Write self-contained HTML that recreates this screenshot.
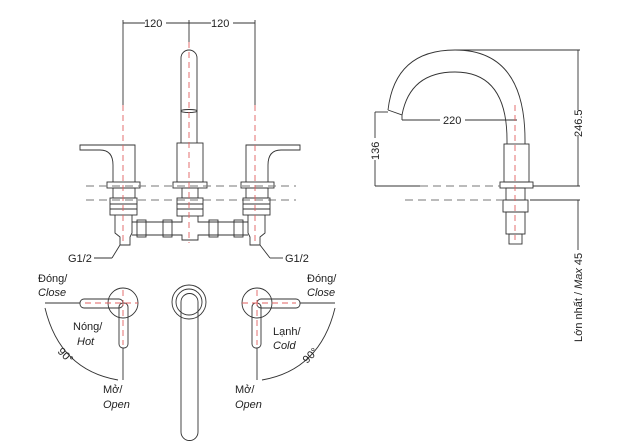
<!DOCTYPE html>
<html><head><meta charset="utf-8"><style>
html,body{margin:0;padding:0;background:#fff;}
svg{display:block;}
text{font-family:"Liberation Sans",sans-serif;font-size:11px;fill:#222;}
.i{font-style:italic;}
</style></head><body>
<svg width="631" height="443" viewBox="0 0 631 443" xmlns="http://www.w3.org/2000/svg">
<g fill="none" stroke="#333" stroke-width="0.9">
<!-- top dimension -->
<line x1="123" y1="20" x2="123" y2="105"/><line x1="255" y1="20" x2="255" y2="105"/><line x1="189" y1="20" x2="189" y2="42"/>
<line x1="123" y1="23" x2="145" y2="23"/><line x1="166" y1="23" x2="211" y2="23"/><line x1="233" y1="23" x2="255" y2="23"/>
<!-- spout front -->
<path d="M181,143 V58 A8,8 0 0 1 197,58 V143"/>
<ellipse cx="189" cy="111" rx="8" ry="1.5"/>
<rect x="177" y="143" width="26" height="39"/>
<rect x="173" y="182" width="34" height="6"/>
<!-- left handle -->
<path d="M113,182 V165 Q113,150 100,150 H80 V145 H135 V182"/>
<rect x="107" y="182" width="33" height="6"/>
<!-- right handle -->
<path d="M268,182 V165 Q268,150 281,150 H300 V145 H246 V182"/>
<rect x="241" y="182" width="33" height="6"/>
<!-- dashed horizontal -->
<g stroke="#777" stroke-dasharray="8,5"><line x1="86" y1="186" x2="296" y2="186"/><line x1="86" y1="200" x2="296" y2="200"/></g>
<!-- below deck: valves -->
<rect x="113" y="188" width="22" height="10"/><rect x="110" y="198" width="27" height="17"/><line x1="110" y1="204" x2="137" y2="204"/><line x1="110" y1="209" x2="137" y2="209"/>
<path d="M115,215 V233 L120,237 V245 H130 V237 L132,233 V215"/>
<rect x="246" y="188" width="22" height="10"/><rect x="243" y="198" width="27" height="17"/><line x1="243" y1="204" x2="270" y2="204"/><line x1="243" y1="209" x2="270" y2="209"/>
<path d="M248,215 V233 L250,237 V245 H260 V237 L265,233 V215"/>
<rect x="182" y="188" width="16" height="10"/><rect x="177" y="198" width="26" height="18"/><line x1="177" y1="204" x2="203" y2="204"/><line x1="177" y1="209" x2="203" y2="209"/>
<path d="M132,222 H182 V216 M132,235 H182 V240 H198 V235 H248 M198,216 V222 H248"/>
<rect x="137" y="220" width="9" height="17"/><rect x="163" y="220" width="9" height="17"/><rect x="209" y="220" width="9" height="17"/><rect x="234" y="220" width="9" height="17"/>
<line x1="94" y1="258" x2="112" y2="258"/><line x1="112" y1="258" x2="120" y2="245"/>
<line x1="283" y1="258" x2="270" y2="258"/><line x1="270" y1="258" x2="260" y2="245"/>
<!-- top view handles -->
<circle cx="123" cy="303" r="15"/><rect x="80" y="299" width="43" height="9" rx="4"/><rect x="119" y="303" width="9" height="45" rx="4"/>
<circle cx="257" cy="303" r="15"/><rect x="257" y="299" width="43" height="9" rx="4"/><rect x="252" y="303" width="9" height="45" rx="4"/>
<path d="M45,303 H80 M123,348 V380 M45,308 Q60,370 118,380"/>
<path d="M335,303 H300 M257,348 V380 M335,308 Q320,370 262,380"/>
<!-- top view spout -->
<circle cx="189" cy="302" r="17"/><circle cx="189" cy="302" r="13"/>
<path d="M181,432 V302 A8,8 0 0 1 198,302 V432 A8.5,8.5 0 0 1 181,432"/>
<!-- side view -->
<path d="M388,110 Q395,50 455,50 Q525,50 525,140 V144"/>
<path d="M402,115 Q410,72 455,72 Q507,72 507,140 V144"/>
<path d="M388,110 L402,115 L402,120"/>
<rect x="504" y="144" width="25" height="38"/><rect x="500" y="182" width="33" height="6"/>
<rect x="506" y="188" width="19" height="12"/><rect x="503" y="200" width="25" height="12"/><rect x="506" y="212" width="19" height="22"/><rect x="509" y="234" width="13" height="10"/>
<line x1="455" y1="50" x2="580" y2="50"/><line x1="578" y1="50" x2="578" y2="110"/><line x1="578" y1="135" x2="578" y2="186"/>
<line x1="375" y1="112" x2="388" y2="112"/><line x1="375" y1="112" x2="375" y2="138"/><line x1="375" y1="160" x2="375" y2="186"/>
<line x1="402" y1="120" x2="440" y2="120"/><line x1="465" y1="120" x2="517" y2="120"/>
<line x1="375" y1="186" x2="420" y2="186"/><line x1="533" y1="186" x2="580" y2="186"/><line x1="530" y1="200" x2="580" y2="200"/>
<line x1="578" y1="200" x2="578" y2="250"/>
<g stroke="#777" stroke-dasharray="8,5"><line x1="420" y1="186" x2="500" y2="186"/><line x1="405" y1="200" x2="503" y2="200"/></g>
</g>
<!-- red centerlines -->
<g stroke="#e06060" stroke-width="0.9" stroke-dasharray="6,4" fill="none">
<line x1="123" y1="105" x2="123" y2="243"/><line x1="189" y1="42" x2="189" y2="243"/><line x1="255" y1="105" x2="255" y2="243"/>
<line x1="515" y1="105" x2="515" y2="240"/>
<line x1="85" y1="303" x2="138" y2="303"/><line x1="123" y1="290" x2="123" y2="345"/>
<line x1="242" y1="303" x2="296" y2="303"/><line x1="257" y1="290" x2="257" y2="345"/>
</g>
<text x="144" y="27">120</text><text x="211" y="27">120</text>
<text x="68" y="262">G1/2</text><text x="285" y="262">G1/2</text>
<text x="38" y="282">Đóng/</text><text x="38" y="296" class="i">Close</text>
<text x="73" y="330">Nóng/</text><text x="77" y="345" class="i">Hot</text>
<text x="103" y="393">Mở/</text><text x="103" y="408" class="i">Open</text>
<text x="307" y="282">Đóng/</text><text x="307" y="296" class="i">Close</text>
<text x="273" y="335">Lạnh/</text><text x="273" y="349" class="i">Cold</text>
<text x="235" y="393">Mở/</text><text x="235" y="408" class="i">Open</text>
<text x="0" y="0" transform="translate(57,352) rotate(45)">90°</text>
<text x="0" y="0" transform="translate(307,364) rotate(-45)">90°</text>
<text x="443" y="124">220</text>
<text x="0" y="0" transform="translate(379,160) rotate(-90)">136</text>
<text x="0" y="0" transform="translate(582,137) rotate(-90)">246.5</text>
<text x="0" y="0" transform="translate(582,342) rotate(-90)">Lớn nhất / <tspan class="i">Max</tspan> 45</text>
</svg>
</body></html>
